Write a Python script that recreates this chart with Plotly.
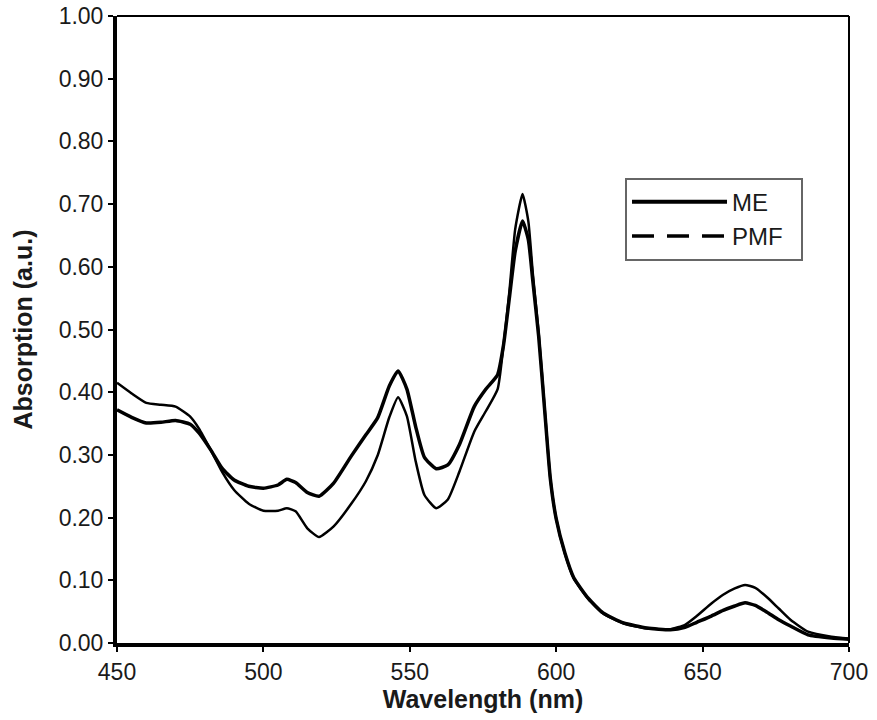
import plotly.graph_objects as go

wavelength = [450, 455, 460, 465, 470, 475, 478, 482, 486, 490, 495, 500, 505, 508, 511, 515, 519,
              524, 530, 535, 539, 543, 546, 549, 552, 555, 559, 563, 567, 572, 576, 580, 582, 584,
              586, 588.5, 590.5, 592, 594, 596, 598, 600, 603, 606, 611, 616, 623, 631, 639, 644,
              648, 653, 657, 661, 664.5, 668, 672, 676, 680, 686, 694, 700]

me = [0.372, 0.360, 0.351, 0.352, 0.355, 0.349, 0.335, 0.308, 0.278, 0.260, 0.250, 0.247, 0.252,
      0.261, 0.256, 0.240, 0.234, 0.255, 0.298, 0.332, 0.359, 0.410, 0.434, 0.405, 0.345, 0.296,
      0.278, 0.284, 0.317, 0.377, 0.405, 0.428, 0.475, 0.550, 0.625, 0.673, 0.643, 0.578, 0.490,
      0.375, 0.262, 0.198, 0.143, 0.104, 0.071, 0.048, 0.032, 0.024, 0.021, 0.025, 0.033, 0.043,
      0.052, 0.059, 0.064, 0.060, 0.049, 0.037, 0.027, 0.013, 0.008, 0.006]

pmf = [0.415, 0.398, 0.383, 0.380, 0.377, 0.361, 0.342, 0.308, 0.272, 0.244, 0.222, 0.211, 0.211,
       0.215, 0.210, 0.183, 0.169, 0.186, 0.222, 0.258, 0.299, 0.360, 0.392, 0.362, 0.290, 0.236,
       0.215, 0.229, 0.274, 0.337, 0.370, 0.405, 0.475, 0.560, 0.660, 0.716, 0.672, 0.590, 0.495,
       0.378, 0.262, 0.198, 0.142, 0.103, 0.070, 0.047, 0.031, 0.023, 0.022, 0.029, 0.043, 0.063,
       0.077, 0.087, 0.0925, 0.088, 0.073, 0.055, 0.037, 0.018, 0.010, 0.007]

x_ticks = [450, 500, 550, 600, 650, 700]
y_ticks = [0.0, 0.1, 0.2, 0.3, 0.4, 0.5, 0.6, 0.7, 0.8, 0.9, 1.0]

FONT = "Liberation Sans, Arial, sans-serif"
TXT = "#1a1a1a"

fig = go.Figure()
fig.add_trace(go.Scatter(x=wavelength, y=pmf, mode="lines", showlegend=False,
                         line=dict(color="black", width=2.5, shape="spline", smoothing=0.5)))
fig.add_trace(go.Scatter(x=wavelength, y=me, mode="lines", showlegend=False,
                         line=dict(color="black", width=3.5, shape="spline", smoothing=0.5)))
# legend entries
fig.add_trace(go.Scatter(x=[None], y=[None], mode="lines", name="ME&nbsp;", legendgroup="a",
                         line=dict(color="black", width=4)))
fig.add_trace(go.Scatter(x=[None], y=[None], mode="lines", name="PMF&nbsp;&nbsp;", legendgroup="b",
                         line=dict(color="black", width=3.5, dash="22px,13px")))

fig.update_layout(
    width=877, height=720,
    margin=dict(l=117, r=28, t=16, b=77),
    paper_bgcolor="white", plot_bgcolor="white",
    font=dict(family=FONT, color=TXT, size=23),
    showlegend=True,
    legend=dict(x=0.694, y=0.742, xanchor="left", yanchor="top",
                bgcolor="white", bordercolor="#666666", borderwidth=2,
                font=dict(size=24, color=TXT), itemwidth=95,
                traceorder="grouped", tracegroupgap=0),
    xaxis=dict(range=[450, 700], tickvals=x_ticks, ticks="outside", ticklen=5,
               tickwidth=1.5, tickcolor="black", showline=True, linewidth=4,
               linecolor="black", showgrid=False, zeroline=False, automargin=False,
               title=dict(text="<b>Wavelength (nm)</b>", font=dict(size=25, color=TXT),
                          standoff=4)),
    yaxis=dict(range=[0, 1.0], tickvals=y_ticks, tickformat=".2f", ticks="outside",
               ticklen=5, tickwidth=1.5, tickcolor="black", showline=True, linewidth=4,
               linecolor="black", showgrid=False, zeroline=False, automargin=False,
               title=dict(text="<b>Absorption (a.u.)</b>", font=dict(size=25, color=TXT),
                          standoff=20)),
)

# thinner top and right frame lines
fig.add_shape(type="line", xref="paper", yref="paper", x0=0, x1=1, y0=1, y1=1,
              line=dict(color="black", width=2))
fig.add_shape(type="line", xref="paper", yref="paper", x0=1, x1=1, y0=0, y1=1,
              line=dict(color="black", width=2))

fig.write_html("out.html", config={"displayModeBar": False},
               post_script="document.body.style.margin='0';")
